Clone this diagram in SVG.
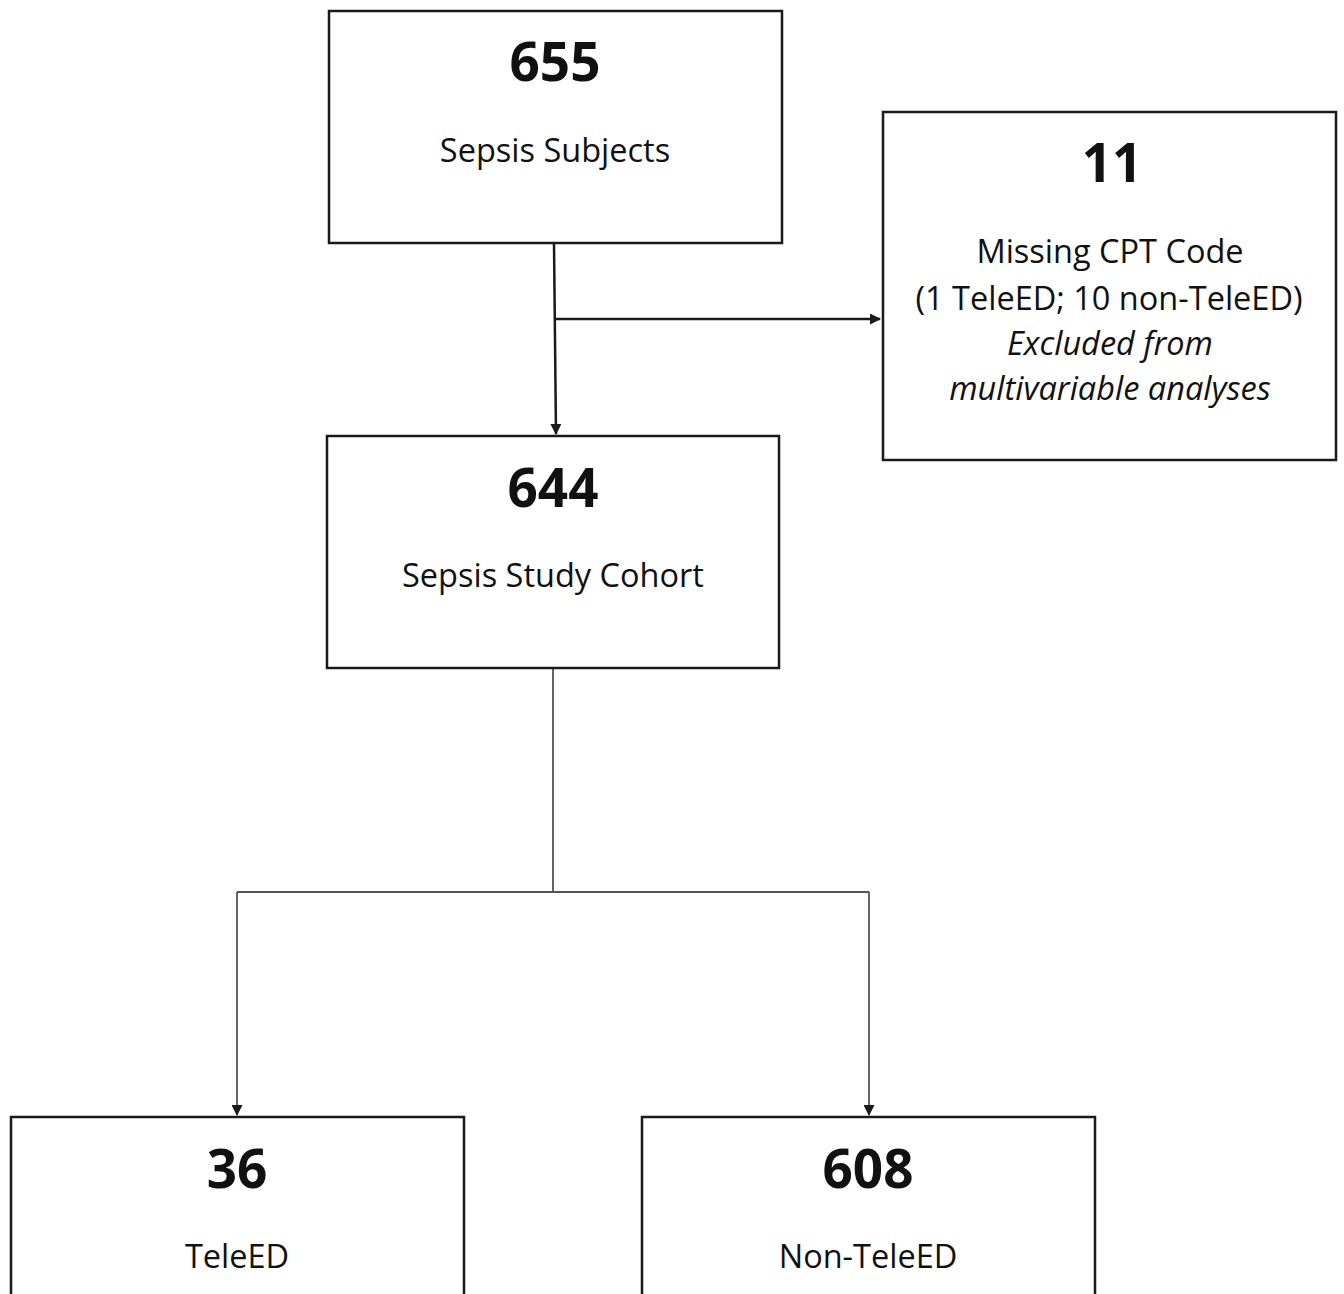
<svg xmlns="http://www.w3.org/2000/svg" width="1344" height="1294" viewBox="0 0 1344 1294">
<style>
.box{fill:#fff;stroke:#1a1a1a;stroke-width:2.5}
.num{font-family:"Open Sans","Liberation Sans",sans-serif;font-weight:bold;font-size:53px;text-anchor:middle;fill:#111}
.lbl{font-family:"Open Sans","Liberation Sans",sans-serif;font-size:32.5px;text-anchor:middle;fill:#111}
.it{font-style:italic}
.c{fill:none;stroke:#1a1a1a;stroke-width:2.5}
.c2{fill:none;stroke:#555;stroke-width:1.8}
</style>
<defs>
<marker id="ah" markerWidth="11" markerHeight="11" refX="10" refY="5.5" orient="auto" markerUnits="userSpaceOnUse">
<path d="M0,0 L11,5.5 L0,11 z" fill="#1a1a1a"/>
</marker>
</defs>
<rect width="1344" height="1294" fill="#fff"/>
<g id="connectors">
<path class="c" d="M554,243 L556,434" marker-end="url(#ah)"/>
<path class="c" d="M556,319 L880,319" marker-end="url(#ah)"/>
<path class="c2" d="M553,668 L553,892"/>
<path class="c2" d="M237,892 L869,892"/>
<path class="c2" d="M237,892 L237,1115" marker-end="url(#ah)"/>
<path class="c2" d="M869,892 L869,1115" marker-end="url(#ah)"/>
</g>
<g id="n655">
<rect class="box" x="329" y="11" width="453" height="232"/>
<text class="num" x="555" y="81">655</text>
<text class="lbl" x="555" y="162">Sepsis Subjects</text>
</g>
<g id="n11">
<rect class="box" x="883" y="112" width="453" height="348"/>
<text class="num" x="1112" y="182">11</text>
<text class="lbl" x="1110" y="263">Missing CPT Code</text>
<text class="lbl" x="1109" y="310">(1 TeleED; 10 non-TeleED)</text>
<text class="lbl it" x="1110" y="355">Excluded from</text>
<text class="lbl it" x="1110" y="400">multivariable analyses</text>
</g>
<g id="n644">
<rect class="box" x="327" y="436" width="452" height="232"/>
<text class="num" x="553" y="507">644</text>
<text class="lbl" x="553" y="587">Sepsis Study Cohort</text>
</g>
<g id="n36">
<rect class="box" x="11" y="1117" width="453" height="190"/>
<text class="num" x="237" y="1188">36</text>
<text class="lbl" x="237" y="1268">TeleED</text>
</g>
<g id="n608">
<rect class="box" x="642" y="1117" width="453" height="190"/>
<text class="num" x="868" y="1188">608</text>
<text class="lbl" x="868" y="1268">Non-TeleED</text>
</g>
</svg>
